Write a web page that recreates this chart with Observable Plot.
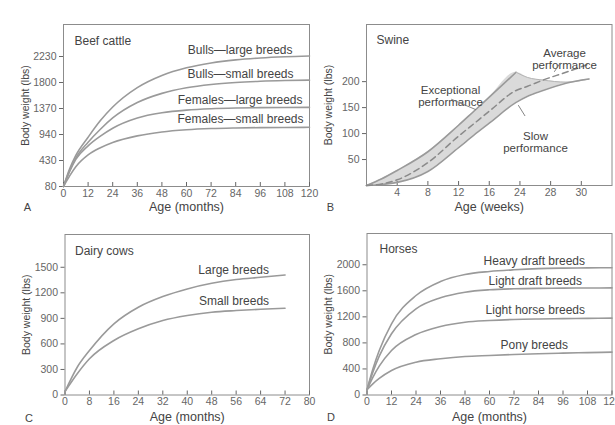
<!DOCTYPE html>
<html><head><meta charset="utf-8">
<script src="https://cdn.jsdelivr.net/npm/d3@7"></script>
<script src="https://cdn.jsdelivr.net/npm/@observablehq/plot@0.6"></script>
<style>
html,body{margin:0;padding:0;background:#fff;}
#wrap{position:relative;width:615px;height:425px;overflow:hidden;}
#wrap > div{position:absolute;}
</style></head><body><div id="wrap"></div>
<script>
// ---------- Panel A: Beef cattle ----------
const beefMonths = [0,3,6,12,18,24,36,48,60,72,84,96,108,120];
const beefNames = ["Bulls—large breeds","Bulls—small breeds","Females—large breeds","Females—small breeds"];
const bullsLarge   = [80,317,529,886,1170,1394,1715,1916,2043,2123,2174,2206,2226,2238];
const bullsSmall   = [80,293,478,788,1027,1213,1468,1620,1712,1767,1800,1820,1832,1839];
const femalesLarge = [80,282,451,718,908,1044,1213,1299,1343,1366,1378,1384,1387,1389];
const femalesSmall = [80,223,346,539,680,783,913,982,1018,1038,1048,1054,1057,1059];
const beefXTicks = [0,12,24,36,48,60,72,84,96,108,120];
const beefYTicks = [80,430,940,1370,1800,2230];

// ---------- Panel B: Swine ----------
const swineWeeks   = [0,2,4,8,12,14,16,19.5,21,23,26,29];
const swineUpper   = [0,13,29,65,116,143,170,218,208,203,199,205];
const swineAverage = [0,3,11,44,95,119,143,183,191,203,218,234];
const swineSlow    = [0,2,6,27,73,97,120,160,172,183,197,205];
const swinePeakWeek = 19.5;
const swineXTicks = [4,8,12,16,20,24,28];
const swineXTickLabels = ["4","8","12","16","24","28","30"];
const swineYTicks = [50,100,150,200];

// ---------- Panel C: Dairy cows ----------
const dairyMonths = [0,4,8,16,24,32,40,48,56,64,72];
const dairyNames = ["Large breeds","Small breeds"];
const dairyLarge = [40,326,522,836,1031,1156,1246,1312,1356,1383,1410];
const dairySmall = [40,249,425,640,777,874,933,972,992,1007,1019];
const dairyXTicks = [0,8,16,24,32,40,48,56,64,72,80];
const dairyYTicks = [0,300,600,900,1200,1500];

// ---------- Panel D: Horses ----------
const horseMonths = [0,3,6,12,24,36,48,60,72,84,96,108,120];
const horseNames = ["Heavy draft breeds","Light draft breeds","Light horse breeds","Pony breeds"];
const heavyDraft = [80,411,683,1094,1528,1743,1851,1897,1923,1940,1948,1952,1955];
const lightDraft = [80,363,596,940,1324,1493,1579,1616,1631,1638,1641,1643,1645];
const lightHorse = [80,279,443,684,929,1052,1118,1144,1160,1168,1173,1176,1180];
const pony       = [80,175,254,376,504,556,591,607,622,633,643,651,658];
const horseXTicks = [0,12,24,36,48,60,72,84,96,108,120];
const horseYTicks = [0,400,800,1200,1600,2000];

// ---------- helpers ----------
const FONT = '"Liberation Sans", Arial, Helvetica, sans-serif';
const LINE = "#9a9a9a", TEXT = "#444", TICK = "#666", FRAME = "#8c8c8c";
const LABEL_SIZE = 12;

function rows(xs, names, series) {
  return names.flatMap((name, k) => xs.map((x, i) => ({name, x, y: series[k][i]})));
}
function endLabel(data, name, dx, dy) {
  const pts = data.filter(d => d.name === name);
  return Plot.text([pts[pts.length - 1]], {x: "x", y: "y", text: "name", textAnchor: "end", dx, dy, fontSize: LABEL_SIZE, fill: TEXT});
}
function common(xTicks, yTicks, xFmt, xTitle, yTitle, letter, titleDy, letterDy) {
  return [
    Plot.frame({stroke: FRAME, strokeWidth: 1}),
    Plot.axisX({ticks: xTicks, tickSize: -4, tickPadding: 7, label: null, color: TICK, fontSize: 10.5, tickFormat: xFmt}),
    Plot.axisY({ticks: yTicks, tickSize: 4, tickPadding: 3, label: null, color: TICK, fontSize: 10.5, tickFormat: d => `${d}`}),
    Plot.text([xTitle], {text: d => d, frameAnchor: "bottom", textAnchor: "middle", dy: titleDy, fontSize: 12.5, fill: TEXT}),
    Plot.text([yTitle], {text: d => d, frameAnchor: "left", textAnchor: "middle", rotate: -90, dx: -38, fontSize: 10.5, fill: TEXT}),
    Plot.text([letter], {text: d => d, frameAnchor: "bottom-left", textAnchor: "middle", dx: -36, dy: letterDy, fontSize: 11, fill: TEXT})
  ];
}
function panel(opts, marks, left, top) {
  const svg = Plot.plot({
    ...opts,
    style: {background: "transparent", overflow: "visible", fontFamily: FONT, fontSize: "10px", maxWidth: "none"},
    marks
  });
  const div = document.createElement("div");
  div.style.left = left + "px";
  div.style.top = top + "px";
  div.appendChild(svg);
  document.getElementById("wrap").appendChild(div);
}
const lineOpts = {x: "x", y: "y", z: "name", stroke: LINE, strokeWidth: 1.6, curve: "monotone-x"};
const titleOpts = {text: d => d, frameAnchor: "top-left", textAnchor: "start", fontSize: LABEL_SIZE, fill: TEXT};

// ---------- A ----------
const beefData = rows(beefMonths, beefNames, [bullsLarge, bullsSmall, femalesLarge, femalesSmall]);
panel({
  width: 310, height: 216, marginLeft: 63, marginRight: 1, marginTop: 24, marginBottom: 30,
  x: {domain: [0, 120]},
  y: {type: "linear", domain: [80, 430, 940, 1370, 1800, 2230, 2759], range: [186, 160, 134, 108, 82, 56, 24]}
}, [
  ...common(beefXTicks, beefYTicks, d => `${d}`, "Age (months)", "Body weight (lbs)", "A", 24, 24),
  Plot.line(beefData, lineOpts),
  Plot.text(["Beef cattle"], {...titleOpts, dx: 11, dy: 12}),
  endLabel(beefData, beefNames[0], -17, -6),
  endLabel(beefData, beefNames[1], -16, -6),
  endLabel(beefData, beefNames[2], -7, -7),
  endLabel(beefData, beefNames[3], -6, -8)
], 0, 0);

// ---------- B ----------
const swineBand = swineWeeks.map((x, i) => ({x, hi: swineUpper[i], lo: swineSlow[i], avg: swineAverage[i]}));
const leader = {draw(ctx, l) { ctx.moveTo(0, 0); ctx.lineTo(0, -l); }};
const noteOpts = {text: d => d, frameAnchor: "top-left", textAnchor: "middle", lineHeight: 1.05, fontSize: 11.5, fill: TEXT};
const leaderOpts = {frameAnchor: "top-left", anchor: "start", shape: leader, stroke: "#777", strokeWidth: 0.8};
panel({
  width: 310, height: 216, marginLeft: 61, marginRight: 3.5, marginTop: 24, marginBottom: 31,
  x: {domain: [0, 32]},
  y: {domain: [0, 310]}
}, [
  Plot.areaY(swineBand, {x: "x", y1: "lo", y2: "hi", fill: "#dadada", curve: "monotone-x"}),
  ...common(swineXTicks, swineYTicks, d => swineXTickLabels[swineXTicks.indexOf(d)], "Age (weeks)", "Body weight (lbs)", "B", 25, 25),
  Plot.line(swineBand.filter(d => d.x <= swinePeakWeek), {x: "x", y: "hi", stroke: LINE, strokeWidth: 1.6, curve: "monotone-x"}),
  Plot.line(swineBand.filter(d => d.x >= swinePeakWeek), {x: "x", y: "hi", stroke: "#b5b5b5", strokeWidth: 1, curve: "monotone-x"}),
  Plot.line(swineBand, {x: "x", y: "lo", stroke: LINE, strokeWidth: 1.6, curve: "monotone-x"}),
  Plot.line(swineBand, {x: "x", y: "avg", stroke: "#8a8a8a", strokeWidth: 1.5, strokeDasharray: "6,4", curve: "monotone-x"}),
  Plot.text(["Swine"], {...titleOpts, dx: 10, dy: 11}),
  Plot.text(["Average\nperformance"], {...noteOpts, dx: 198, dy: 24}),
  Plot.text(["Exceptional\nperformance"], {...noteOpts, dx: 84, dy: 61}),
  Plot.text(["Slow\nperformance"], {...noteOpts, dx: 169, dy: 107}),
  Plot.vector([0], {...leaderOpts, dx: 188, dy: 47, length: 10, rotate: 34}),
  Plot.vector([0], {...leaderOpts, dx: 109, dy: 85, length: 26, rotate: 293}),
  Plot.vector([0], {...leaderOpts, dx: 152, dy: 81, length: 12, rotate: 148})
], 305, 0);

// ---------- C ----------
const dairyData = rows(dairyMonths, dairyNames, [dairyLarge, dairySmall]);
panel({
  width: 310, height: 215, marginLeft: 64.5, marginRight: 1, marginTop: 24, marginBottom: 30.5,
  x: {domain: [0, 80]},
  y: {domain: [0, 1885]}
}, [
  ...common(dairyXTicks, dairyYTicks, d => `${d}`, "Age (months)", "Body weight (lbs)", "C", 26, 27),
  Plot.line(dairyData, lineOpts),
  Plot.text(["Dairy cows"], {...titleOpts, dx: 10, dy: 12}),
  endLabel(dairyData, dairyNames[0], -16, -5),
  endLabel(dairyData, dairyNames[1], -16, -7)
], 0, 210);

// ---------- D ----------
const horseData = rows(horseMonths, horseNames, [heavyDraft, lightDraft, lightHorse, pony]);
panel({
  width: 310, height: 215, marginLeft: 61.5, marginRight: 3.5, marginTop: 23, marginBottom: 30.5,
  x: {domain: [0, 120]},
  y: {domain: [0, 2480]}
}, [
  ...common(horseXTicks, horseYTicks, d => `${d}`, "Age (months)", "Body weight (lbs)", "D", 25.5, 26),
  Plot.line(horseData, lineOpts),
  Plot.text(["Horses"], {...titleOpts, dx: 12.5, dy: 11}),
  endLabel(horseData, horseNames[0], -27, -7),
  endLabel(horseData, horseNames[1], -30, -7),
  endLabel(horseData, horseNames[2], -27, -8),
  endLabel(horseData, horseNames[3], -44, -7)
], 305, 210);
</script></body></html>
